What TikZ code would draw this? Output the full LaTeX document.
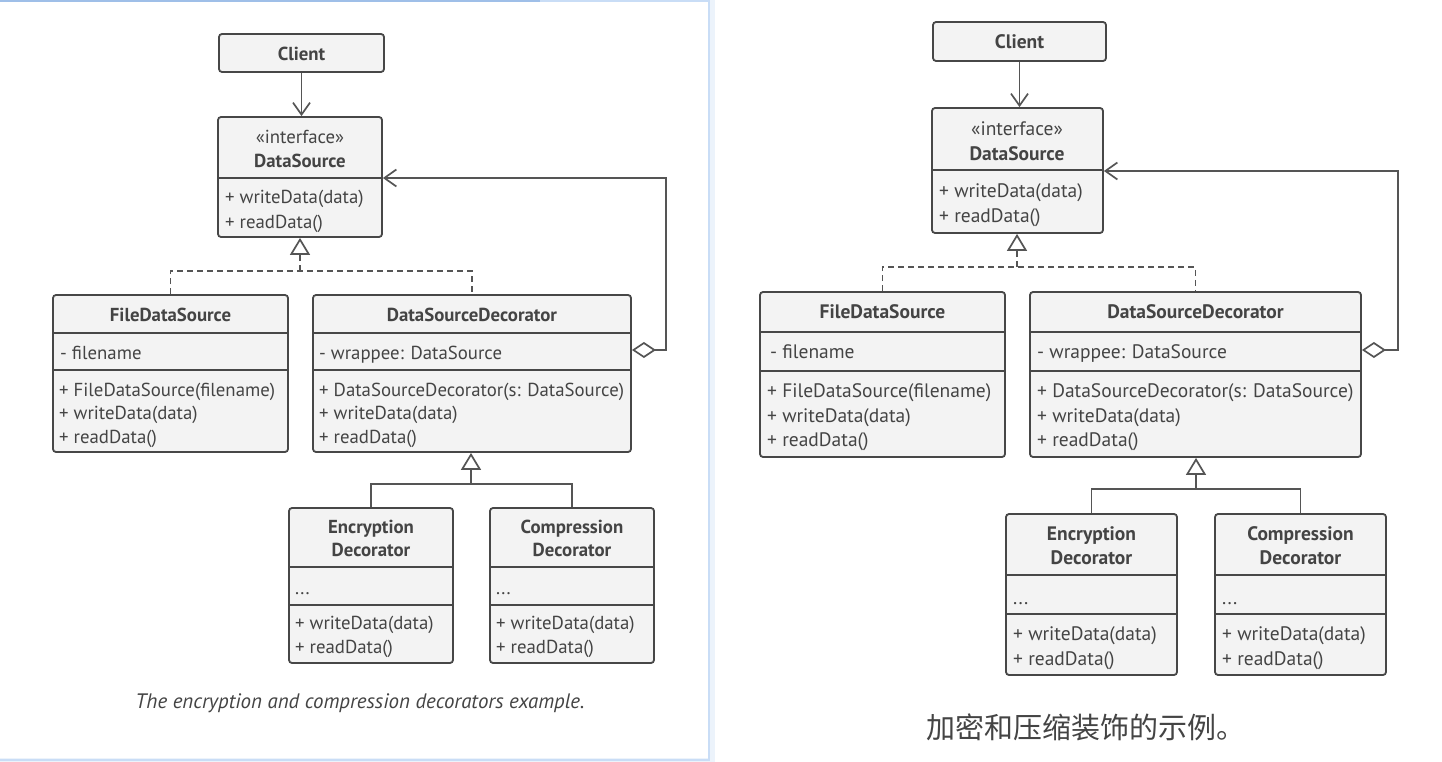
\documentclass[tikz,border=0pt]{standalone}
\usepackage{fontspec}
\setmainfont{PT Sans}
\newfontfamily\cjk{Noto Sans CJK SC}
\usetikzlibrary{arrows.meta,fit,calc}
\definecolor{fillc}{HTML}{F3F3F3}
\definecolor{linec}{HTML}{474747}
\definecolor{textc}{HTML}{444444}
\definecolor{conn}{HTML}{555555}
\definecolor{frameA}{HTML}{9FBFE8}
\definecolor{frameB}{HTML}{C9DDF6}
\newcommand{\fsL}{\fontsize{18.8}{21}\selectfont}
\newcommand{\fsR}{\fontsize{19.5}{22}\selectfont}
\newcommand{\hsep}[2]{\draw[divline] (#1.west |- 0,#2) -- (#1.east |- 0,#2);}
\tikzset{
  box/.style={draw=linec, fill=fillc, line width=1.8pt, rounded corners=3pt, inner sep=0pt},
  divline/.style={draw=linec, line width=1.8pt},
  txt/.style={text=textc, inner sep=0pt, text height=0.7em, text depth=0pt, yshift=-4pt},
  lt/.style={txt, font=\fsL},
  ltb/.style={txt, font=\fsL\bfseries},
  rt/.style={txt, font=\fsR},
  rtb/.style={txt, font=\fsR\bfseries},
  conline/.style={draw=conn, line width=1.7pt},
  dep/.style={conline, -{Straight Barb[length=12pt,width=17pt,line width=1.7pt]}},
  real/.style={conline, dash pattern=on 6pt off 4pt, -{Triangle[open,length=17pt,width=20pt,line width=1.7pt,fill=white]}},
  inh/.style={conline, -{Triangle[open,length=17pt,width=20pt,line width=1.7pt,fill=white]}},
  agg/.style={conline, {Diamond[open,length=24pt,width=16pt,line width=1.7pt,fill=white]}-{Straight Barb[length=12pt,width=17pt,line width=1.7pt]}},
  dashline/.style={conline, dash pattern=on 6pt off 4pt},
}
\begin{document}
\begin{tikzpicture}[x=1pt,y=-1pt]
\useasboundingbox (0,0) rectangle (1442,762);
\fill[white] (0,0) rectangle (1442,762);
% ---------------- frame of left panel
\draw[frameB, line width=6pt, opacity=0.35] (0,761) -- (712,761) -- (712,0);
\draw[frameB, line width=2.5pt] (0,760) -- (709,760) -- (709,0);
\draw[frameB, line width=2.5pt] (540,1) -- (709,1);
\draw[frameA, line width=2.5pt] (0,1) -- (540,1);

% ================= LEFT DIAGRAM =================
\node[box, fit={(219,34) (384,72)}] (lclient) {};
\node[ltb] at (lclient.center) {Client};

\node[box, fit={(218,117) (382,237)}] (lds) {};
\hsep{lds}{178}
\node[lt] at (300,136) {«interface»};
\node[ltb] at (300,160) {DataSource};
\node[lt, anchor=west] at (225,196) {+ writeData(data)};
\node[lt, anchor=west] at (225,221) {+ readData()};

\node[box, fit={(53,295) (288,452)}] (lfds) {};
\hsep{lfds}{333}\hsep{lfds}{370}
\node[ltb] at (170.5,314) {FileDataSource};
\node[lt, anchor=west] at (60,352) {- filename};
\node[lt, anchor=west] at (59,389) {+ FileDataSource(filename)};
\node[lt, anchor=west] at (59,412) {+ writeData(data)};
\node[lt, anchor=west] at (59,436) {+ readData()};

\node[box, fit={(313,295) (631,452)}] (ldsd) {};
\hsep{ldsd}{333}\hsep{ldsd}{370}
\node[ltb] at (472,314) {DataSourceDecorator};
\node[lt, anchor=west] at (319,352) {- wrappee: DataSource};
\node[lt, anchor=west] at (319,389) {+ DataSourceDecorator(s: DataSource)};
\node[lt, anchor=west] at (319,412) {+ writeData(data)};
\node[lt, anchor=west] at (319,436) {+ readData()};

\node[box, fit={(289,508) (453,663)}] (lenc) {};
\hsep{lenc}{567}\hsep{lenc}{605}
\node[ltb] at (371,526) {Encryption};
\node[ltb] at (371,549) {Decorator};
\node[lt, anchor=west] at (295,587) {...};
\node[lt, anchor=west] at (295,622) {+ writeData(data)};
\node[lt, anchor=west] at (295,646) {+ readData()};

\node[box, fit={(490,508) (654,663)}] (lcomp) {};
\hsep{lcomp}{567}\hsep{lcomp}{605}
\node[ltb] at (572,526) {Compression};
\node[ltb] at (572,549) {Decorator};
\node[lt, anchor=west] at (496,587) {...};
\node[lt, anchor=west] at (496,622) {+ writeData(data)};
\node[lt, anchor=west] at (496,646) {+ readData()};

% connectors left
\draw[dep] (lclient.south) -- (lclient.south |- lds.north);
\coordinate (lj1) at (300,271);
\draw[dashline] (lfds.north) |- (lj1) -| (ldsd.north);
\draw[real] (lj1) -- (lds.south);
\coordinate (lj2) at (471,484);
\draw[conline] (lenc.north) |- (lj2) -| (lcomp.north);
\draw[inh] (lj2) -- (ldsd.south -| lj2);
\coordinate (lag) at (666,350);
\draw[agg] (ldsd.east |- lag) -- (lag) |- (lds.east |- 0,178);

\node[text=textc, font=\fontsize{20.9}{23}\selectfont\itshape, inner sep=0pt] (lcap) at (360,703) {The encryption and compression decorators example.};

% ================= RIGHT DIAGRAM =================
\node[box, fit={(933,22) (1106,61)}] (rclient) {};
\node[rtb] at (rclient.center) {Client};

\node[box, fit={(932,108) (1103,233)}] (rds) {};
\hsep{rds}{170}
\node[rt] at (1017,128) {«interface»};
\node[rtb] at (1017,153) {DataSource};
\node[rt, anchor=west] at (939,190) {+ writeData(data)};
\node[rt, anchor=west] at (939,215) {+ readData()};

\node[box, fit={(760,292) (1005,457)}] (rfds) {};
\hsep{rfds}{332}\hsep{rfds}{371}
\node[rtb] at (882.5,311) {FileDataSource};
\node[rt, anchor=west] at (770,351) {- filename};
\node[rt, anchor=west] at (767,390) {+ FileDataSource(filename)};
\node[rt, anchor=west] at (767,415) {+ writeData(data)};
\node[rt, anchor=west] at (767,439) {+ readData()};

\node[box, fit={(1030,292) (1361,457)}] (rdsd) {};
\hsep{rdsd}{332}\hsep{rdsd}{371}
\node[rtb] at (1195.5,311) {DataSourceDecorator};
\node[rt, anchor=west] at (1037,351) {- wrappee: DataSource};
\node[rt, anchor=west] at (1037,390) {+ DataSourceDecorator(s: DataSource)};
\node[rt, anchor=west] at (1037,415) {+ writeData(data)};
\node[rt, anchor=west] at (1037,439) {+ readData()};

\node[box, fit={(1006,514) (1177,675)}] (renc) {};
\hsep{renc}{575}\hsep{renc}{614}
\node[rtb] at (1091.5,533) {Encryption};
\node[rtb] at (1091.5,557) {Decorator};
\node[rt, anchor=west] at (1013,597) {...};
\node[rt, anchor=west] at (1013,633) {+ writeData(data)};
\node[rt, anchor=west] at (1013,658) {+ readData()};

\node[box, fit={(1215,514) (1386,675)}] (rcomp) {};
\hsep{rcomp}{575}\hsep{rcomp}{614}
\node[rtb] at (1300.5,533) {Compression};
\node[rtb] at (1300.5,557) {Decorator};
\node[rt, anchor=west] at (1222,597) {...};
\node[rt, anchor=west] at (1222,633) {+ writeData(data)};
\node[rt, anchor=west] at (1222,658) {+ readData()};

% connectors right
\draw[dep] (rclient.south) -- (rclient.south |- rds.north);
\coordinate (rj1) at (1017,267);
\draw[dashline] (rfds.north) |- (rj1) -| (rdsd.north);
\draw[real] (rj1) -- (rds.south -| rj1);
\coordinate (rj2) at (1196,489);
\draw[conline] (renc.north) |- (rj2) -| (rcomp.north);
\draw[inh] (rj2) -- (rdsd.south -| rj2);
\coordinate (rag) at (1398,350);
\draw[agg] (rdsd.east |- rag) -- (rag) |- (rds.east |- 0,171);

\node[text=textc, font=\cjk\fontsize{29}{31}\selectfont, inner sep=0pt] (rcap) at (1086,727) {加密和压缩装饰的示例。};
\end{tikzpicture}
\end{document}
